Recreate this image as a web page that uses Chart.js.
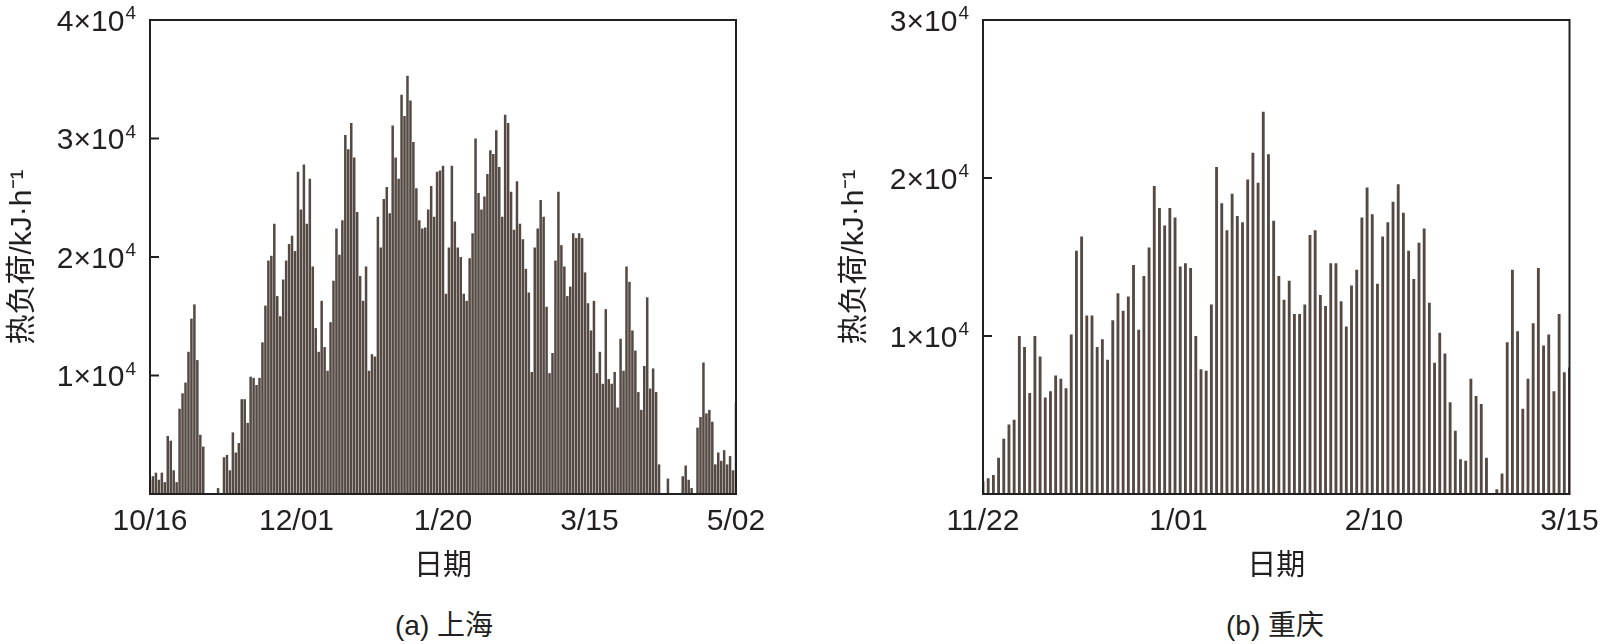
<!DOCTYPE html>
<html>
<head>
<meta charset="utf-8">
<script src="https://cdn.jsdelivr.net/npm/chart.js@4.4.1/dist/chart.umd.min.js"></script>
<style>
  html, body { margin: 0; padding: 0; background: #fff; }
  body { width: 1611px; height: 644px; position: relative; overflow: hidden; }
  .panel { position: absolute; top: 0; height: 600px; }
  .cap { position: absolute; top: 603px; transform: translateX(-50%); white-space: nowrap;
         font: 28px "Liberation Sans", "Noto Sans CJK SC", sans-serif; color: #231f20; }
</style>
</head>
<body>
<div class="panel" style="left:0;width:800px"><canvas id="chartA"></canvas></div>
<div class="panel" style="left:800px;width:811px"><canvas id="chartB"></canvas></div>
<div class="cap" style="left:444px">(a) 上海</div>
<div class="cap" style="left:1275px">(b) 重庆</div>
<script>
"use strict";

// (a) Shanghai: daily peak heat load, kJ/h, 10/16 .. 5/02
const datesA = ["10/16", "12/01", "1/20", "3/15", "5/02"];
const peaksA = [
  1200, 1500, 1800, 1200, 1800, 1000, 4900, 4500, 2000, 1000,
  7200, 8500, 9400, 12000, 14800, 16000, 11300, 5000, 4000, 0,
  0, 0, 0, 500, 0, 3100, 3300, 2000, 5200, 3500,
  4300, 8000, 8000, 6000, 9900, 9800, 9200, 9800, 12800, 15900,
  19700, 20100, 22800, 16700, 15000, 18100, 19700, 21100, 21800, 20500,
  27200, 24000, 27800, 22800, 26600, 19200, 14000, 12000, 16300, 12400,
  10400, 14500, 18000, 22400, 20200, 23100, 30300, 29100, 31300, 28400,
  23800, 18400, 16300, 19200, 10400, 11800, 11600, 23400, 20800, 24900,
  25900, 23700, 31100, 28400, 26600, 33700, 31900, 35300, 33200, 29700,
  25800, 23100, 22400, 22500, 24000, 26000, 23400, 27200, 27300, 27700,
  16900, 20800, 27700, 23000, 20800, 20000, 16900, 16300, 19900, 22000,
  30000, 25400, 24000, 25100, 27000, 29000, 28700, 30700, 27600, 23400,
  32000, 31300, 25500, 22300, 26400, 22800, 21500, 19000, 17000, 10300,
  20800, 22400, 24800, 23400, 15800, 10200, 11900, 19700, 25500, 21000,
  19200, 16700, 17500, 22000, 21600, 22000, 21600, 18700, 16100, 13800,
  16300, 10200, 12000, 9300, 15600, 9700, 9300, 10300, 7300, 13100,
  10400, 19200, 17900, 13800, 12100, 8600, 7100, 10800, 16600, 8900,
  10600, 8600, 2500, 0, 0, 1300, 0, 0, 0, 0,
  1500, 2400, 1200, 500, 0, 5600, 6500, 11100, 6800, 7100,
  6100, 2500, 3500, 2800, 3700, 2500, 3200, 2000, 7700
];
const yTicksA = [10000, 20000, 30000, 40000];

// (b) Chongqing: daily peak heat load, kJ/h, 11/22 .. 3/15
const datesB = ["11/22", "1/01", "2/10", "3/15"];
const peaksB = [
  800, 1000, 1200, 2300, 3500, 4400, 4700, 10000, 9300, 6400,
  10000, 8700, 6100, 6500, 7500, 7300, 6700, 10100, 15400, 16300,
  11300, 11300, 9300, 9800, 8500, 11000, 12700, 11600, 12500, 14500,
  10400, 13800, 15600, 19500, 18100, 17000, 18100, 17500, 14400, 14600,
  14300, 10000, 7900, 7800, 12000, 20700, 18400, 16700, 19000, 17600,
  17200, 19900, 21600, 19700, 24200, 21500, 17300, 13800, 12300, 13500,
  11400, 11400, 12000, 16400, 16700, 12600, 11900, 14600, 14600, 12200,
  10600, 13200, 14200, 17500, 19400, 17700, 13300, 16300, 17200, 18500,
  19600, 17800, 15400, 13600, 15900, 16800, 12100, 8300, 10200, 8900,
  5800, 4000, 2200, 2100, 7300, 6200, 5700, 2300, 0, 300,
  1300, 9600, 14200, 10300, 5400, 7300, 10800, 14300, 9400, 10100,
  6500, 11400, 7700, 8000
];
const yTicksB = [10000, 20000, 30000];

const ink = "#231f20";
const barColor = "#544943";
const latin = '"Liberation Sans", Arial, sans-serif';
const mixed = '"Liberation Sans", "Noto Sans CJK SC", sans-serif';

// box frame, inward y ticks and "n×10⁴" labels
const panelDecor = {
  id: "panelDecor",
  afterDraw(chart, args, opts) {
    const { ctx, chartArea: a } = chart;
    const yScale = chart.scales.y;
    ctx.save();
    ctx.strokeStyle = ink;
    ctx.fillStyle = ink;
    ctx.lineWidth = 2;
    ctx.strokeRect(a.left, a.top, a.right - a.left, a.bottom - a.top);
    ctx.textAlign = "right";
    opts.ticks.forEach(v => {
      const py = yScale.getPixelForValue(v);
      ctx.beginPath();
      ctx.moveTo(a.left, py);
      ctx.lineTo(a.left + 9, py);
      ctx.stroke();
      ctx.font = "19px " + latin;
      const expW = ctx.measureText("4").width;
      ctx.fillText("4", a.left - 14, py - 1);
      ctx.font = "30px " + latin;
      ctx.fillText((v / 10000) + "×10", a.left - 15 - expW, py + 10.5);
    });
    ctx.restore();
  }
};

function makeChart(id, peaks, dates, yTicks, yWidth, padRight, titlePad, barPct) {
  const last = peaks.length - 1;
  return new Chart(document.getElementById(id), {
    type: "bar",
    data: {
      datasets: [{
        data: peaks.map((v, i) => ({ x: i, y: v })),
        backgroundColor: barColor,
        borderWidth: 0,
        barPercentage: barPct,
        categoryPercentage: 1
      }]
    },
    plugins: [panelDecor],
    options: {
      responsive: true,
      maintainAspectRatio: false,
      animation: false,
      layout: { padding: { left: 0, right: padRight, top: 20, bottom: 0 } },
      plugins: {
        legend: { display: false },
        tooltip: { enabled: false },
        panelDecor: { ticks: yTicks }
      },
      scales: {
        x: {
          type: "linear",
          offset: false,
          min: 0,
          max: last,
          grid: { display: false, drawTicks: false, offset: false },
          border: { display: false },
          afterBuildTicks: s => {
            s.ticks = dates.map((d, i) => ({ value: i * last / (dates.length - 1) }));
          },
          afterFit: s => {
            s.height = 106;
            s.paddingLeft = 0;
            s.paddingRight = 0;
          },
          ticks: {
            autoSkip: false,
            maxRotation: 0,
            padding: 10,
            color: ink,
            font: { family: latin, size: 30 },
            callback: (v, i) => dates[i]
          },
          title: {
            display: true,
            text: "日期",
            color: ink,
            font: { family: mixed, size: 29 },
            padding: { top: 0, bottom: 16 }
          }
        },
        y: {
          min: 0,
          max: yTicks[yTicks.length - 1],
          grid: { display: false, drawTicks: false },
          border: { display: false },
          ticks: { display: false },
          afterFit: s => { s.width = yWidth; },
          title: {
            display: true,
            text: "热负荷/kJ·h⁻¹",
            color: ink,
            font: { family: mixed, size: 30 },
            padding: { top: titlePad, bottom: 0 }
          }
        }
      }
    }
  });
}

makeChart("chartA", peaksA, datesA, yTicksA, 150, 64, 5, 0.85);
makeChart("chartB", peaksB, datesB, yTicksB, 183, 41.5, 37, 0.55);
</script>
</body>
</html>
